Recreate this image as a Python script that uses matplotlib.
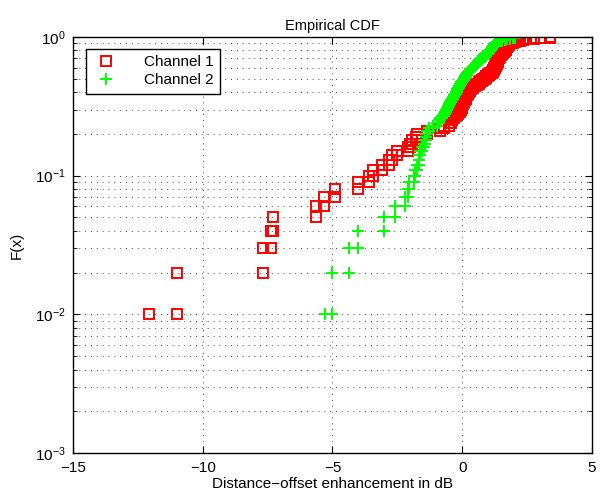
import numpy as np
import matplotlib
matplotlib.use("Agg")
import matplotlib.pyplot as plt
from matplotlib.ticker import LogLocator, NullFormatter

plt.rcParams['font.family'] = ['Liberation Sans', 'DejaVu Sans']
plt.rcParams['mathtext.fontset'] = 'custom'
plt.rcParams['mathtext.rm'] = 'Liberation Sans'

# Sorted sample values (dB) read from the empirical CDF
channel1 = [-12.08, -10.98, -7.66, -7.37, -7.30, -5.63, -5.32, -4.90, -4.02, -3.61,
            -3.42, -3.10, -2.84, -2.71, -2.52, -2.10, -2.03, -1.95, -1.80, -1.75,
            -1.37, -0.84, -0.70, -0.52, -0.45, -0.38, -0.30, -0.24, -0.17, -0.10,
            -0.06, -0.02, 0.01, 0.04, 0.07, 0.10, 0.13, 0.16, 0.20, 0.24,
            0.28, 0.31, 0.35, 0.42, 0.50, 0.57, 0.63, 0.69, 0.75, 0.82,
            0.88, 0.93, 0.98, 1.02, 1.08, 1.13, 1.18, 1.20, 1.22, 1.24,
            1.26, 1.28, 1.30, 1.32, 1.33, 1.35, 1.36, 1.37, 1.38, 1.39,
            1.40, 1.41, 1.44, 1.46, 1.49, 1.52, 1.55, 1.58, 1.61, 1.63,
            1.65, 1.67, 1.68, 1.70, 1.72, 1.74, 1.76, 1.77, 1.79, 1.80,
            1.88, 1.96, 2.05, 2.14, 2.24, 2.34, 2.44, 2.76, 3.02, 3.40]

channel2 = [-5.28, -5.03, -4.38, -4.02, -3.00, -2.58, -2.19, -2.10, -2.07, -1.87,
            -1.81, -1.75, -1.68, -1.65, -1.61, -1.55, -1.49, -1.45, -1.41, -1.39,
            -1.36, -1.29, -1.14, -0.97, -0.90, -0.84, -0.78, -0.72, -0.67, -0.62,
            -0.58, -0.54, -0.50, -0.46, -0.42, -0.39, -0.35, -0.31, -0.28, -0.25,
            -0.22, -0.19, -0.16, -0.13, -0.10, -0.07, -0.04, -0.01, 0.02, 0.05,
            0.08, 0.11, 0.14, 0.17, 0.20, 0.23, 0.26, 0.29, 0.32, 0.36,
            0.40, 0.44, 0.48, 0.52, 0.56, 0.59, 0.62, 0.66, 0.70, 0.74,
            0.78, 0.82, 0.86, 0.90, 0.93, 0.96, 0.99, 1.02, 1.05, 1.08,
            1.10, 1.12, 1.14, 1.16, 1.18, 1.20, 1.22, 1.24, 1.26, 1.28,
            1.30, 1.33, 1.38, 1.45, 1.54, 1.64, 1.74, 1.85, 1.95, 2.05]

labels = ["Channel 1", "Channel 2"]
title = "Empirical CDF"
xlabel = "Distance\u2212offset enhancement in dB"
ylabel = "F(x)"


def ecdf_vertices(samples):
    x = np.sort(np.asarray(samples, dtype=float))
    n = len(x)
    f_hi = np.arange(1, n + 1) / n
    f_lo = np.arange(0, n) / n
    xs = np.repeat(x, 2)
    fs = np.empty(2 * n)
    fs[0::2] = f_lo
    fs[1::2] = f_hi
    keep = fs > 0
    return xs[keep], fs[keep]


fig = plt.figure(figsize=(6.02, 5.00), dpi=100)
ax = fig.add_axes([0.1213, 0.094, 0.862, 0.832])

x1, f1 = ecdf_vertices(channel1)
x2, f2 = ecdf_vertices(channel2)
ax.plot(x1, f1, linestyle='none', marker='s', markersize=6.5, markerfacecolor='none',
        markeredgecolor=(1, 0, 0), markeredgewidth=1.4, label=labels[0])
ax.plot(x2, f2, linestyle='none', marker='+', markersize=8.5,
        markeredgecolor=(0, 1, 0), markeredgewidth=1.4, label=labels[1])

ax.set_yscale('log')
ax.set_xlim(-15, 5)
ax.set_ylim(1e-3, 1)
ax.set_xticks([-15, -10, -5, 0, 5])
ax.set_xticklabels(["\u221215", "\u221210", "\u22125", "0", "5"])
ax.yaxis.set_major_locator(LogLocator(base=10, numticks=10))
ax.yaxis.set_minor_locator(LogLocator(base=10, subs=np.arange(2, 10), numticks=10))
ax.yaxis.set_minor_formatter(NullFormatter())

ax.grid(True, which='major', axis='both', linestyle=(0, (1, 5)), color='0.3', linewidth=0.7)
ax.grid(True, which='minor', axis='y', linestyle=(0, (1, 5)), color='0.3', linewidth=0.7)

ax.tick_params(which='both', direction='in', top=True, right=True, labelsize=11)
ax.tick_params(axis='x', pad=6)
ax.tick_params(axis='y', pad=5)
ax.tick_params(which='major', length=5)
ax.tick_params(which='minor', length=3)
for s in ax.spines.values():
    s.set_linewidth(1.0)

ax.set_title(title, fontsize=10.5, pad=5)
ax.set_xlabel(xlabel, fontsize=11, labelpad=1)
ax.set_ylabel(ylabel, fontsize=11, labelpad=8)

leg = ax.legend(loc='upper left', bbox_to_anchor=(0.01, 0.99), fontsize=11,
                fancybox=False, edgecolor='black', framealpha=1,
                handletextpad=1.6, borderpad=0.4, labelspacing=0.3, handlelength=1.8)
leg.get_frame().set_linewidth(1.0)

fig.savefig("out.png", dpi=100)
